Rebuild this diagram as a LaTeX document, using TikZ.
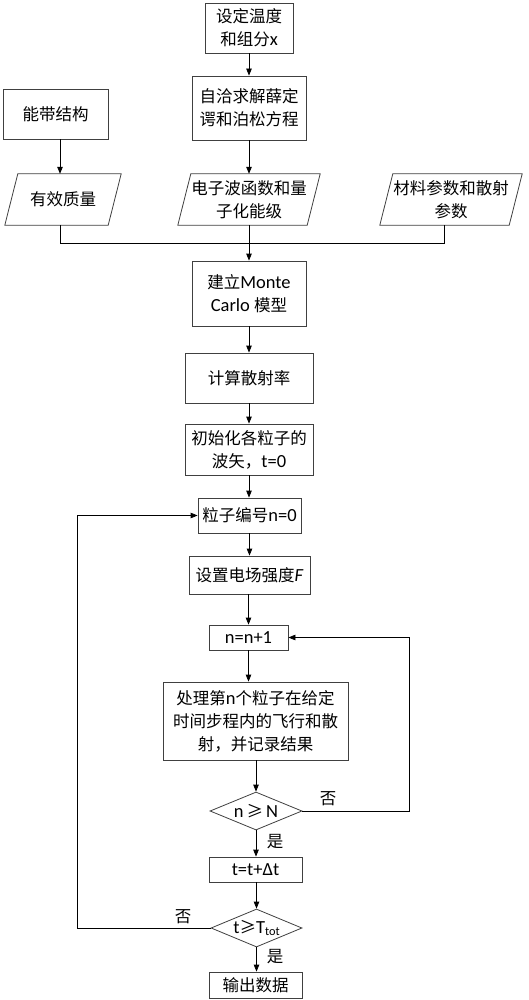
\documentclass[tikz,border=0pt]{standalone}
\usepackage{fontspec}
\setmainfont{Carlito}[Scale=1.12]
\newfontfamily\cjk{Noto Sans CJK SC}
\usetikzlibrary{arrows.meta,shapes.geometric,calc}
\newcommand{\zh}[1]{{\cjk #1}}
\begin{document}
\begin{tikzpicture}[x=1pt,y=-1pt,
  txt/.style={font=\fontsize{16.5}{23}\selectfont},
  box/.style={txt, draw=black!75, line width=0.8pt, rectangle, inner sep=0pt, align=center},
  body/.style={txt, draw=none, rectangle, inner sep=0pt, align=center},
  para/.style={draw=black!75, line width=0.8pt},
  decision/.style={diamond, draw=black!75, line width=0.8pt, inner sep=0pt, aspect=2.4, minimum width=92pt, minimum height=38pt},
  line/.style={draw=black, line width=0.8pt},
  arr/.style={line, -{Triangle[length=7pt,width=5.5pt]}},
  lbl/.style={txt, inner sep=0pt}
]
\fill[white] (0,0) rectangle (529,1000);
\useasboundingbox (0,0) rectangle (529,1000);

% top part
\node[box, minimum width=88pt, minimum height=50pt] (set) at (249,28) {\zh{设定温度}\\\zh{和组分}x};
\node[box, minimum width=114pt, minimum height=64pt] (solve) at (249,108) {\zh{自洽求解薛定}\\\zh{谔和泊松方程}};
\node[box, minimum width=105pt, minimum height=50pt] (band) at (55.5,114) {\zh{能带结构}};

\node[body, minimum width=103pt, minimum height=51pt] (mass) at (63,199.5) {\zh{有效质量}};
\node[body, minimum width=129pt, minimum height=51pt] (wave) at (249,199.5) {\zh{电子波函数和量}\\\zh{子化能级}};
\node[body, minimum width=129pt, minimum height=51pt] (mat) at (451,199.5) {\zh{材料参数和散射}\\\zh{参数}};
\foreach \p in {mass,wave,mat}{
  \draw[para] ([xshift=6.5pt]\p.north west) -- ([xshift=6.5pt]\p.north east) -- ([xshift=-6.5pt]\p.south east) -- ([xshift=-6.5pt]\p.south west) -- cycle;
}
\coordinate (j) at (249,243);

\node[box, minimum width=114pt, minimum height=65pt] (model) at (249,293.5) {\zh{建立}Monte\\Carlo \zh{模型}};
\node[box, minimum width=128pt, minimum height=50pt] (rate) at (249,378) {\zh{计算散射率}};
\node[box, minimum width=128pt, minimum height=51pt] (init) at (249,449.5) {\zh{初始化各粒子的}\\\zh{波矢，}t=0};
\node[box, minimum width=103pt, minimum height=35pt] (n0) at (249.5,515.5) {\zh{粒子编号}n=0};
\node[box, minimum width=121pt, minimum height=38pt] (field) at (249.5,575) {\zh{设置电场强度}\textit{F}};
\node[box, minimum width=79pt, minimum height=25pt] (inc) at (248.5,637.5) {n=n+1};
\node[box, minimum width=185pt, minimum height=78pt] (proc) at (255.5,721) {\zh{处理第}n\zh{个粒子在给定}\\\zh{时间步程内的飞行和散}\\\zh{射，并记录结果}};
\node[decision, label={[txt]center:{n\,\zh{≥}\,N}}] (d1) at (256,811) {};
\node[box, minimum width=93pt, minimum height=25pt] (tinc) at (255.5,869.5) {t=t+Δt};
\node[decision, minimum width=91pt, label={[txt]center:{t\zh{≥}T\raisebox{-2.5pt}{\fontsize{11}{11}\selectfont tot}}}] (d2) at (256.5,928) {};
\node[box, minimum width=93pt, minimum height=26pt] (out) at (255.5,985) {\zh{输出数据}};

\coordinate (rr) at (409,637.5);
\coordinate (ll) at (77,515.5);

% labels
\node[lbl] (no1) at (328,799) {\zh{否}};
\node[lbl] (yes1) at (275,842) {\zh{是}};
\node[lbl] (no2) at (183,917) {\zh{否}};
\node[lbl] (yes2) at (275,957) {\zh{是}};

% connectors
\draw[arr] (set) -- (solve);
\draw[arr] (solve) -- (wave.north);
\draw[arr] ([xshift=4.5pt]band.south) -- ([xshift=-3pt]mass.north);
\draw[line] ([xshift=-3pt]mass.south) |- (j);
\draw[line] ([xshift=-7pt]mat.south) |- (j);
\draw[arr] (wave.south) -- (model.north);
\draw[arr] (model) -- (rate);
\draw[arr] (rate) -- (init);
\draw[arr] (init.south) -- (init.south |- n0.north);
\draw[arr] (n0.south) -- (n0.south |- field.north);
\draw[arr] (field.south -| inc.north) -- (inc.north);
\draw[arr] (inc.south) -- (inc.south |- proc.north);
\draw[arr] (proc.south -| d1.north) -- (d1.north);
\draw[arr] (d1.south) -- (d1.south |- tinc.north);
\draw[arr] (tinc.south -| d2.north) -- (d2.north);
\draw[arr] (d2.south) -- (d2.south |- out.north);
\draw[arr] (d1.east) -| (rr) -- (inc.east);
\draw[arr] (d2.west) -| (ll) -- (n0.west);
\end{tikzpicture}
\end{document}
